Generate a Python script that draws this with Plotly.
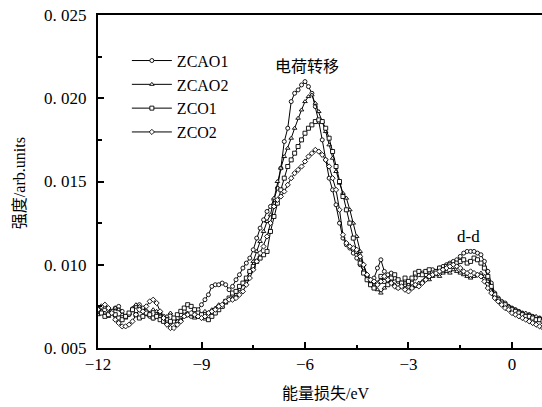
import plotly.graph_objects as go

# Energy grid (eV), 0.1 eV step from -12.0 to 0.9
energy = [round(-12.0 + 0.1 * i, 1) for i in range(130)]

zcao1 = [
    0.0072, 0.0074, 0.0075, 0.0073, 0.0071, 0.0074, 0.0075, 0.0072, 0.0069, 0.0070,
    0.0073, 0.0075, 0.0076, 0.0074, 0.0072, 0.0069, 0.0068, 0.0070, 0.0071, 0.0069,
    0.0067, 0.0065, 0.0066, 0.0068, 0.0070, 0.0072, 0.0070, 0.0069, 0.0071, 0.0073,
    0.0076, 0.0079, 0.0082, 0.0087, 0.0088, 0.0088, 0.0089, 0.0088, 0.0085, 0.0087,
    0.0091, 0.0094, 0.0098, 0.0101, 0.0104, 0.0109, 0.0116, 0.0122, 0.0127, 0.0132,
    0.0135, 0.0139, 0.0146, 0.0158, 0.0174, 0.0182, 0.0198, 0.0203, 0.0205, 0.0208,
    0.0210, 0.0207, 0.0203, 0.0195, 0.0186, 0.0175, 0.0163, 0.0152, 0.0145, 0.0136,
    0.0125, 0.0116, 0.0112, 0.0110, 0.0107, 0.0104, 0.0100, 0.0096, 0.0093, 0.0090,
    0.0092, 0.0098, 0.0103, 0.0096, 0.0094, 0.0095, 0.0092, 0.0090, 0.0089, 0.0088,
    0.0087, 0.0089, 0.0092, 0.0094, 0.0095, 0.0094, 0.0096, 0.0097, 0.0096, 0.0098,
    0.0099, 0.0100, 0.0101, 0.0102, 0.0103, 0.0105, 0.0107, 0.0108, 0.0108, 0.0108,
    0.0107, 0.0106, 0.0102, 0.0096, 0.0089, 0.0083, 0.0080, 0.0078, 0.0077, 0.0075,
    0.0074, 0.0073, 0.0072, 0.0071, 0.0070, 0.0070, 0.0069, 0.0068, 0.0068, 0.0067,
]

zcao2 = [
    0.0070, 0.0072, 0.0071, 0.0069, 0.0072, 0.0074, 0.0073, 0.0070, 0.0068, 0.0071,
    0.0074, 0.0076, 0.0075, 0.0072, 0.0070, 0.0071, 0.0073, 0.0072, 0.0069, 0.0068,
    0.0069, 0.0071, 0.0068, 0.0066, 0.0067, 0.0069, 0.0071, 0.0070, 0.0068, 0.0069,
    0.0070, 0.0072, 0.0071, 0.0073, 0.0074, 0.0076, 0.0075, 0.0077, 0.0079, 0.0080,
    0.0082, 0.0085, 0.0088, 0.0091, 0.0096, 0.0102, 0.0108, 0.0114, 0.0120, 0.0126,
    0.0130, 0.0140, 0.0150, 0.0158, 0.0165, 0.0170, 0.0176, 0.0182, 0.0188, 0.0193,
    0.0198, 0.0201, 0.0202, 0.0197, 0.0192, 0.0186, 0.0180, 0.0172, 0.0164, 0.0156,
    0.0149, 0.0143, 0.0140, 0.0133, 0.0125, 0.0117, 0.0108, 0.0100, 0.0094, 0.0090,
    0.0087, 0.0085, 0.0083, 0.0086, 0.0089, 0.0091, 0.0088, 0.0086, 0.0087, 0.0089,
    0.0088, 0.0086, 0.0087, 0.0089, 0.0090, 0.0092, 0.0091, 0.0093, 0.0094, 0.0093,
    0.0095, 0.0096, 0.0095, 0.0097, 0.0096, 0.0095, 0.0094, 0.0093, 0.0092, 0.0093,
    0.0094, 0.0095, 0.0093, 0.0090, 0.0086, 0.0082, 0.0079, 0.0077, 0.0076, 0.0075,
    0.0074, 0.0073, 0.0072, 0.0071, 0.0071, 0.0070, 0.0069, 0.0069, 0.0068, 0.0067,
]

zco1 = [
    0.0073, 0.0071, 0.0069, 0.0070, 0.0072, 0.0070, 0.0068, 0.0067, 0.0069, 0.0071,
    0.0073, 0.0070, 0.0068, 0.0069, 0.0071, 0.0070, 0.0068, 0.0069, 0.0067, 0.0066,
    0.0065, 0.0066, 0.0068, 0.0070, 0.0072, 0.0074, 0.0076, 0.0075, 0.0073, 0.0071,
    0.0070, 0.0068, 0.0067, 0.0069, 0.0071, 0.0073, 0.0075, 0.0078, 0.0080, 0.0083,
    0.0084, 0.0087, 0.0089, 0.0092, 0.0096, 0.0099, 0.0102, 0.0104, 0.0106, 0.0108,
    0.0120, 0.0129, 0.0137, 0.0145, 0.0152, 0.0159, 0.0163, 0.0167, 0.0171, 0.0175,
    0.0179, 0.0182, 0.0184, 0.0186, 0.0187, 0.0186, 0.0182, 0.0176, 0.0168, 0.0159,
    0.0150, 0.0141, 0.0133, 0.0125, 0.0116, 0.0108, 0.0101, 0.0095, 0.0091, 0.0088,
    0.0086, 0.0089, 0.0093, 0.0090, 0.0088, 0.0092, 0.0094, 0.0091, 0.0089, 0.0092,
    0.0090, 0.0092, 0.0095, 0.0096, 0.0094, 0.0096, 0.0097, 0.0095, 0.0096, 0.0098,
    0.0097, 0.0099, 0.0100, 0.0099, 0.0101, 0.0102, 0.0103, 0.0101, 0.0102, 0.0104,
    0.0103, 0.0101, 0.0098, 0.0093, 0.0087, 0.0082, 0.0079, 0.0077, 0.0076, 0.0074,
    0.0073, 0.0072, 0.0071, 0.0070, 0.0069, 0.0069, 0.0068, 0.0067, 0.0067, 0.0066,
]

zco2 = [
    0.0073, 0.0075, 0.0076, 0.0074, 0.0071, 0.0067, 0.0065, 0.0063, 0.0063, 0.0064,
    0.0066, 0.0070, 0.0073, 0.0072, 0.0075, 0.0078, 0.0079, 0.0077, 0.0072, 0.0068,
    0.0064, 0.0062, 0.0062, 0.0064, 0.0066, 0.0069, 0.0070, 0.0071, 0.0070, 0.0069,
    0.0068, 0.0069, 0.0071, 0.0072, 0.0073, 0.0075, 0.0076, 0.0078, 0.0079, 0.0079,
    0.0080, 0.0082, 0.0084, 0.0088, 0.0092, 0.0097, 0.0102, 0.0107, 0.0111, 0.0117,
    0.0125, 0.0135, 0.0139, 0.0141, 0.0144, 0.0148, 0.0152, 0.0155, 0.0157, 0.0159,
    0.0162, 0.0165, 0.0167, 0.0169, 0.0168, 0.0166, 0.0163, 0.0159, 0.0152, 0.0145,
    0.0133, 0.0118, 0.0113, 0.0111, 0.0110, 0.0109, 0.0105, 0.0100, 0.0094, 0.0091,
    0.0090, 0.0088, 0.0090, 0.0093, 0.0091, 0.0089, 0.0087, 0.0086, 0.0087, 0.0085,
    0.0084, 0.0086, 0.0088, 0.0087, 0.0089, 0.0091, 0.0093, 0.0094, 0.0095, 0.0096,
    0.0097, 0.0098, 0.0099, 0.0100, 0.0099, 0.0098, 0.0096, 0.0095, 0.0096, 0.0095,
    0.0094, 0.0093, 0.0090, 0.0086, 0.0083, 0.0080, 0.0078, 0.0076, 0.0074, 0.0073,
    0.0071, 0.0070, 0.0069, 0.0068, 0.0067, 0.0066, 0.0065, 0.0064, 0.0063, 0.0062,
]

series_names = ["ZCAO1", "ZCAO2", "ZCO1", "ZCO2"]
series_values = [zcao1, zcao2, zco1, zco2]
series_symbols = ["circle", "triangle-up", "square", "diamond"]

y_tick_vals = [0.005, 0.010, 0.015, 0.020, 0.025]
y_tick_text = ["0. 005", "0. 010", "0. 015", "0. 020", "0. 025"]
x_tick_vals = [-12, -9, -6, -3, 0]
x_tick_text = ["\u221212", "\u22129", "\u22126", "\u22123", "0"]

SERIF = "Liberation Serif, DejaVu Serif, serif"
MIXED = "Liberation Serif, Noto Sans CJK SC, serif"

fig = go.Figure()
for name, vals, sym in zip(series_names, series_values, series_symbols):
    fig.add_trace(go.Scatter(
        x=energy, y=vals, name=name, mode="lines+markers",
        line=dict(color="black", width=1),
        marker=dict(symbol=sym, size=4, color="white",
                    line=dict(color="black", width=0.9)),
    ))

fig.update_layout(
    width=542, height=407,
    margin=dict(l=98, r=0, t=15, b=59),
    paper_bgcolor="white", plot_bgcolor="white",
    font=dict(family=SERIF, size=16, color="black"),
    showlegend=True,
    legend=dict(x=0.065, y=0.914, xanchor="left", yanchor="top",
                bgcolor="rgba(0,0,0,0)", font=dict(family=SERIF, size=16),
                itemwidth=40, tracegroupgap=0),
    xaxis=dict(range=[-12, 0.87], showgrid=False, zeroline=False,
               showline=True, linecolor="black", linewidth=2, mirror=True,
               ticks="inside", ticklen=6, tickwidth=1.5, tickcolor="black",
               tickvals=x_tick_vals, ticktext=x_tick_text,
               minor=dict(ticks="inside", ticklen=3, tickwidth=1.5,
                          tickcolor="black", dtick=1.5, tick0=-12),
               tickfont=dict(family=SERIF, size=17)),
    yaxis=dict(range=[0.005, 0.025], showgrid=False, zeroline=False,
               showline=True, linecolor="black", linewidth=2,
               ticks="inside", ticklen=6, tickwidth=1.5, tickcolor="black",
               tickvals=y_tick_vals, ticktext=y_tick_text,
               minor=dict(ticks="inside", ticklen=4, tickwidth=1.5,
                          tickcolor="black", dtick=0.0025, tick0=0.005),
               ticklabelstandoff=6,
               tickfont=dict(family=SERIF, size=17)),
    annotations=[
        dict(text="电荷转移", x=-5.94, y=0.0219, xref="x", yref="y",
             showarrow=False, font=dict(family=MIXED, size=16)),
        dict(text="d-d", x=-1.25, y=0.0117, xref="x", yref="y",
             showarrow=False, font=dict(family=SERIF, size=17)),
        dict(text="能量损失/eV", x=0.5135, y=-0.138, xref="paper", yref="paper",
             xanchor="center", yanchor="middle", showarrow=False,
             font=dict(family=MIXED, size=16)),
        dict(text="强度/arb.units", x=-0.178, y=0.495, xref="paper", yref="paper",
             xanchor="center", yanchor="middle", textangle=-90, showarrow=False,
             font=dict(family=MIXED, size=16)),
    ],
)

fig.write_html("out.html")
